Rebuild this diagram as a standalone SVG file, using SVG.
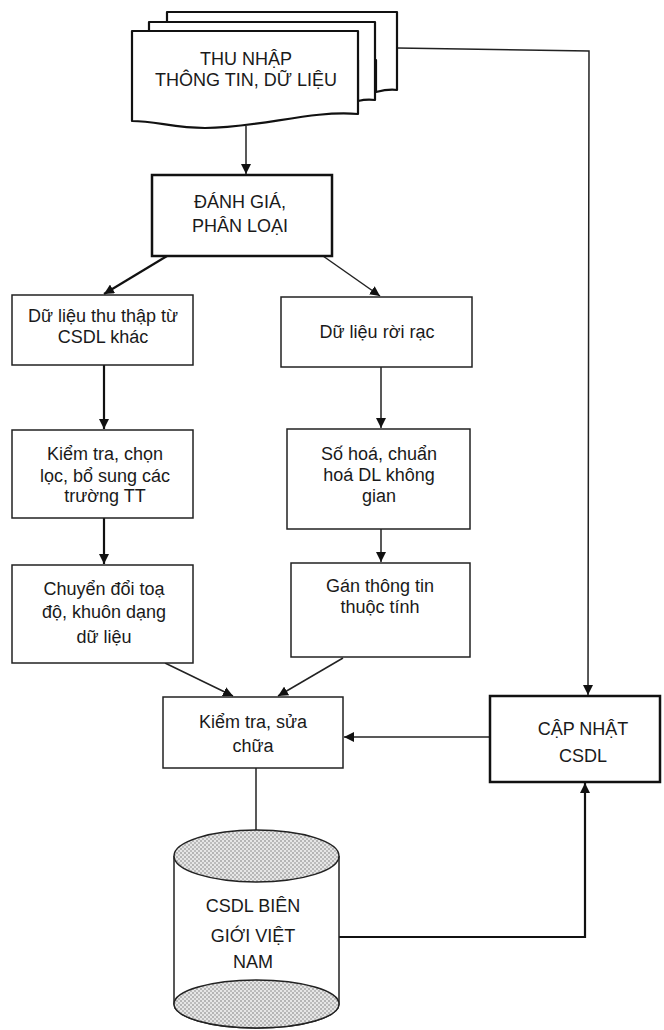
<svg xmlns="http://www.w3.org/2000/svg" width="664" height="1030" viewBox="0 0 664 1030">
<defs>
<style>
.t{font-family:"Liberation Sans",Arial,sans-serif;font-size:18px;fill:#1a1a1a;text-anchor:middle}
.box{fill:#fff;stroke:#222;stroke-width:1.5}
.tbox{fill:#fff;stroke:#111;stroke-width:2.5}
.doc{fill:#fff;stroke:#111;stroke-width:2.2;stroke-linejoin:round}
.c{fill:none;stroke:#222;stroke-width:1.5}
.ck{fill:none;stroke:#111;stroke-width:2.2}
</style>
<marker id="ah" viewBox="0 0 10 10" refX="10" refY="5" markerWidth="10" markerHeight="10" markerUnits="userSpaceOnUse" orient="auto">
<path d="M0,0 L10,5 L0,10 Z" fill="#111"/>
</marker>
<pattern id="dots" width="4" height="4" patternUnits="userSpaceOnUse">
<rect width="4" height="4" fill="#e6e6e6"/>
<circle cx="1" cy="1" r="0.8" fill="#777"/>
<circle cx="3" cy="3" r="0.8" fill="#888"/>
</pattern>
</defs>
<rect width="664" height="1030" fill="#fff"/>

<g id="connectors">
<line class="c" x1="246" y1="126" x2="246" y2="174" marker-end="url(#ah)"/>
<line class="ck" x1="167" y1="256" x2="104" y2="294" marker-end="url(#ah)"/>
<line class="c" x1="323" y1="256" x2="380" y2="296" marker-end="url(#ah)"/>
<line class="ck" x1="104" y1="365" x2="104" y2="429" marker-end="url(#ah)"/>
<line class="ck" x1="104" y1="518" x2="104" y2="564" marker-end="url(#ah)"/>
<line class="c" x1="381" y1="367" x2="381" y2="428" marker-end="url(#ah)"/>
<line class="c" x1="381" y1="529" x2="381" y2="562" marker-end="url(#ah)"/>
<line class="c" x1="165" y1="663" x2="233" y2="696" marker-end="url(#ah)"/>
<line class="c" x1="343" y1="658" x2="278" y2="696" marker-end="url(#ah)"/>
<line class="c" x1="490" y1="737" x2="344" y2="737" marker-end="url(#ah)"/>
<polyline class="c" points="397,48 589,51 588,695" marker-end="url(#ah)"/>
<line class="c" x1="256" y1="768" x2="256" y2="830"/>
<polyline class="ck" points="339,937 585,937 585,783" marker-end="url(#ah)"/>
</g>

<g id="thu-nhap">
<path class="doc" d="M167,12 H397 V90 C390,89 384,90 376,92 L376,60 L167,60 Z"/>
<path class="doc" d="M149,22 H375 V100 C368,99 362,100 358,101 L358,60 L149,60 Z"/>
<path class="doc" d="M132,31 H358 V114 C310,110 260,128 205,128 C175,128 155,121 132,121 Z"/>
<text class="t" x="246" y="65">THU NHẬP</text>
<text class="t" x="246" y="86">THÔNG TIN, DỮ LIỆU</text>
</g>

<g id="danh-gia">
<rect class="tbox" x="152" y="175" width="180" height="81"/>
<text class="t" x="240" y="208">ĐÁNH GIÁ,</text>
<text class="t" x="240" y="232">PHÂN LOẠI</text>
</g>

<g id="dl-csdl-khac">
<rect class="box" x="12" y="295" width="181" height="70"/>
<text class="t" x="103" y="322">Dữ liệu thu thập từ</text>
<text class="t" x="103" y="343">CSDL khác</text>
</g>

<g id="kiem-tra-chon-loc">
<rect class="box" x="12" y="430" width="181" height="88"/>
<text class="t" x="105" y="460">Kiểm tra, chọn</text>
<text class="t" x="105" y="482">lọc, bổ sung các</text>
<text class="t" x="105" y="502">trường TT</text>
</g>

<g id="chuyen-doi">
<rect class="box" x="12" y="565" width="181" height="98"/>
<text class="t" x="104" y="595">Chuyển đổi toạ</text>
<text class="t" x="104" y="618">độ, khuôn dạng</text>
<text class="t" x="104" y="643">dữ liệu</text>
</g>

<g id="dl-roi-rac">
<rect class="box" x="281" y="297" width="191" height="70"/>
<text class="t" x="377" y="338">Dữ liệu rời rạc</text>
</g>

<g id="so-hoa">
<rect class="box" x="287" y="429" width="183" height="100"/>
<text class="t" x="379" y="460">Số hoá, chuẩn</text>
<text class="t" x="379" y="481">hoá DL không</text>
<text class="t" x="379" y="502">gian</text>
</g>

<g id="gan-thong-tin">
<rect class="box" x="291" y="563" width="179" height="94"/>
<text class="t" x="380" y="592">Gán thông tin</text>
<text class="t" x="380" y="613">thuộc tính</text>
</g>

<g id="kiem-tra-sua">
<rect class="box" x="163" y="697" width="180" height="71"/>
<text class="t" x="253" y="728">Kiểm tra, sửa</text>
<text class="t" x="253" y="752">chữa</text>
</g>

<g id="cap-nhat">
<rect class="tbox" x="490" y="696" width="170" height="86"/>
<text class="t" x="583" y="735">CẬP NHẬT</text>
<text class="t" x="583" y="762">CSDL</text>
</g>

<g id="csdl-bien-gioi">
<path class="box" d="M174,856 V1004 A82.5,24 0 0 0 339,1004 V856" fill="#fff"/>
<ellipse cx="256.5" cy="1004" rx="82.5" ry="24" fill="url(#dots)" stroke="#222" stroke-width="1.5"/>
<ellipse cx="256.5" cy="856" rx="82.5" ry="26" fill="url(#dots)" stroke="#222" stroke-width="1.5"/>
<text class="t" x="253" y="912">CSDL BIÊN</text>
<text class="t" x="253" y="942">GIỚI VIỆT</text>
<text class="t" x="253" y="968">NAM</text>
</g>
</svg>
